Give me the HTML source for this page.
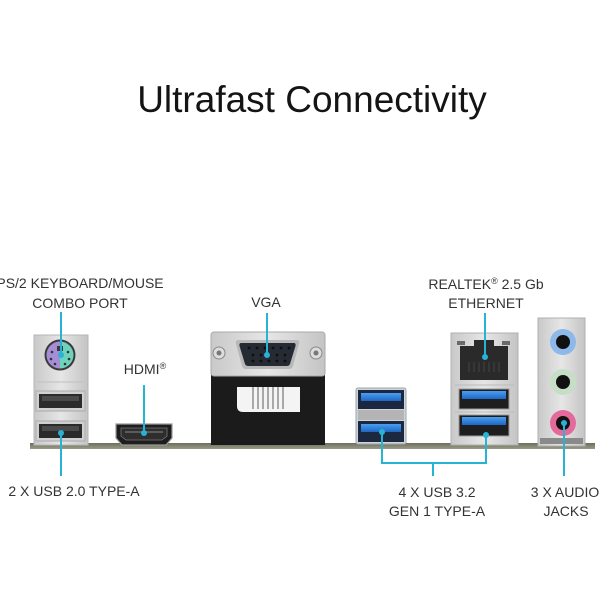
<!DOCTYPE html>
<html><head><meta charset="utf-8"><style>
html,body{margin:0;padding:0;background:#fff;}
body{width:600px;height:600px;overflow:hidden;position:relative;font-family:"Liberation Sans",sans-serif;}
svg{position:absolute;left:0;top:0;}
</style></head><body>
<svg width="600" height="600" viewBox="0 0 600 600" xmlns="http://www.w3.org/2000/svg">
<defs>
<linearGradient id="silver" x1="0" y1="0" x2="1" y2="0">
<stop offset="0" stop-color="#c9c9c9"/><stop offset="0.5" stop-color="#e6e6e6"/><stop offset="1" stop-color="#c4c4c4"/>
</linearGradient>
<linearGradient id="board" x1="0" y1="0" x2="0" y2="1">
<stop offset="0" stop-color="#6e6e5e"/><stop offset="1" stop-color="#9a9a88"/>
</linearGradient>
<linearGradient id="blue" x1="0" y1="0" x2="0" y2="1">
<stop offset="0" stop-color="#4a9ef0"/><stop offset="1" stop-color="#1f66c4"/>
</linearGradient>
</defs>

<!-- title -->
<text x="312" y="112" font-size="37" fill="#141414" text-anchor="middle" font-family="Liberation Sans, sans-serif">Ultrafast Connectivity</text>

<!-- board strip -->
<rect x="30" y="443" width="565" height="6" fill="url(#board)"/>

<!-- PS2 / USB2 panel -->
<rect x="34" y="335" width="54" height="110" fill="url(#silver)" stroke="#b5b5b5" stroke-width="1"/>
<circle cx="60" cy="355" r="15.5" fill="#3a3a3a"/>
<path d="M60 341.5 A13.5 13.5 0 0 0 60 368.5 Z" fill="#a68ed6"/>
<path d="M60 341.5 A13.5 13.5 0 0 1 60 368.5 Z" fill="#6fd2bc"/>
<rect x="57" y="346" width="6" height="5" fill="#3a3a3a"/>
<g fill="#333"><circle cx="52" cy="352" r="1.3"/><circle cx="68" cy="352" r="1.3"/><circle cx="51" cy="359" r="1.3"/><circle cx="69" cy="359" r="1.3"/><circle cx="55" cy="364" r="1.3"/><circle cx="65" cy="364" r="1.3"/></g>
<line x1="38" y1="382" x2="84" y2="382" stroke="#c0c0c0"/>
<rect x="36" y="391" width="49" height="20" fill="#d0d0d0" stroke="#aaa"/>
<rect x="39" y="394" width="43" height="14" fill="#2b2b2b"/>
<rect x="42" y="396" width="37" height="5" fill="#4a4a4a"/>
<rect x="36" y="421" width="49" height="20" fill="#d0d0d0" stroke="#aaa"/>
<rect x="39" y="424" width="43" height="14" fill="#2b2b2b"/>
<rect x="42" y="426" width="37" height="5" fill="#4a4a4a"/>

<!-- HDMI -->
<path d="M116 424 L172 424 L172 438 L166 445 L122 445 L116 438 Z" fill="#1e1e1e" stroke="#9a9a9a" stroke-width="1.2"/>
<path d="M121 428 L167 428 L167 436 L162 440 L126 440 L121 436 Z" fill="#2e2e2e" stroke="#777" stroke-width="0.8"/>
<line x1="125" y1="432" x2="163" y2="432" stroke="#888" stroke-width="1"/>

<!-- VGA -->
<rect x="211" y="375" width="114" height="70" fill="#1b1b1b"/>
<path d="M237 387 L300 387 L300 412 L243 412 Q237 412 237 406 Z" fill="#f4f4f4"/>
<g stroke="#a8a8a8" stroke-width="2">
<line x1="253" y1="387" x2="253" y2="409"/><line x1="258" y1="387" x2="258" y2="409"/><line x1="263" y1="387" x2="263" y2="409"/><line x1="268" y1="387" x2="268" y2="409"/><line x1="273" y1="387" x2="273" y2="409"/><line x1="278" y1="387" x2="278" y2="409"/><line x1="283" y1="387" x2="283" y2="409"/>
</g>
<rect x="211" y="332" width="114" height="44" rx="3" fill="url(#silver)" stroke="#aaa"/>
<circle cx="219" cy="353" r="6" fill="#ddd" stroke="#888"/><circle cx="219" cy="353" r="2.5" fill="#777"/>
<circle cx="316" cy="353" r="6" fill="#ddd" stroke="#888"/><circle cx="316" cy="353" r="2.5" fill="#777"/>
<path d="M238 340 L297 340 Q300 340 299 344 L293 366 Q292 369 289 369 L246 369 Q243 369 242 366 L236 344 Q235 340 238 340 Z" fill="#b8b8b8"/>
<path d="M241 343 L294 343 Q296 343 295.5 346 L290 364 Q289 366 287 366 L248 366 Q246 366 245 364 L239.5 346 Q239 343 241 343 Z" fill="#262a33"/>
<g fill="#0e0e12">
<circle cx="249" cy="348" r="1.4"/><circle cx="257" cy="348" r="1.4"/><circle cx="265" cy="348" r="1.4"/><circle cx="273" cy="348" r="1.4"/><circle cx="281" cy="348" r="1.4"/><circle cx="289" cy="348" r="1.4"/>
<circle cx="253" cy="355" r="1.4"/><circle cx="261" cy="355" r="1.4"/><circle cx="269" cy="355" r="1.4"/><circle cx="277" cy="355" r="1.4"/><circle cx="285" cy="355" r="1.4"/>
<circle cx="253" cy="361" r="1.4"/><circle cx="261" cy="361" r="1.4"/><circle cx="269" cy="361" r="1.4"/><circle cx="277" cy="361" r="1.4"/><circle cx="285" cy="361" r="1.4"/>
</g>

<!-- USB3 double stack -->
<rect x="356" y="388" width="50" height="56" rx="2" fill="#cfd3db" stroke="#9aa"/>
<rect x="358" y="390" width="46" height="19" fill="#1c2740"/>
<rect x="361" y="393" width="40" height="8" fill="url(#blue)"/>
<rect x="358" y="410" width="46" height="10" fill="#b4b4b4"/>
<rect x="358" y="421" width="46" height="21" fill="#1c2740"/>
<rect x="361" y="424" width="40" height="8" fill="url(#blue)"/>

<!-- Ethernet + USB3 stack -->
<rect x="451" y="333" width="67" height="112" fill="url(#silver)" stroke="#b0b0b0"/>
<rect x="457" y="341" width="8" height="4" fill="#6a6a6a"/>
<rect x="502" y="341" width="8" height="4" fill="#6a6a6a"/>
<path d="M460 346 L474 346 L474 340 L494 340 L494 346 L508 346 L508 380 L460 380 Z" fill="#2a2a2a"/>
<g stroke="#444" stroke-width="1">
<line x1="469" y1="362" x2="469" y2="372"/><line x1="474" y1="362" x2="474" y2="372"/><line x1="479" y1="362" x2="479" y2="372"/><line x1="484" y1="362" x2="484" y2="372"/><line x1="489" y1="362" x2="489" y2="372"/><line x1="494" y1="362" x2="494" y2="372"/><line x1="499" y1="362" x2="499" y2="372"/>
</g>
<line x1="455" y1="385" x2="514" y2="385" stroke="#bbb"/>
<rect x="459" y="389" width="50" height="20" fill="#1e1e1e" stroke="#999"/>
<rect x="462" y="391" width="44" height="8" fill="url(#blue)"/>
<line x1="455" y1="412" x2="514" y2="412" stroke="#bbb"/>
<rect x="459" y="415" width="50" height="21" fill="#1e1e1e" stroke="#999"/>
<rect x="462" y="417" width="44" height="8" fill="url(#blue)"/>

<!-- Audio panel -->
<rect x="538" y="318" width="47" height="128" fill="url(#silver)" stroke="#b0b0b0"/>
<rect x="540" y="438" width="43" height="6" fill="#8a8a8a"/>
<circle cx="563" cy="342" r="13" fill="#8cb8ea"/><circle cx="563" cy="342" r="7" fill="#111"/>
<circle cx="563" cy="382" r="13" fill="#c6dec6"/><circle cx="563" cy="382" r="7" fill="#111"/>
<circle cx="563" cy="423" r="13" fill="#e46a9c"/><circle cx="563" cy="423" r="7" fill="#111"/>

<!-- connector lines -->
<g stroke="#27b3d3" stroke-width="2" fill="none">
<line x1="61" y1="312" x2="61" y2="355"/>
<line x1="144" y1="385" x2="144" y2="433"/>
<line x1="267" y1="313" x2="267" y2="355"/>
<line x1="485" y1="313" x2="485" y2="357"/>
<line x1="61" y1="433" x2="61" y2="476"/>
<path d="M382 432 L382 463 L486 463 L486 435"/>
<line x1="433" y1="463" x2="433" y2="476"/>
<line x1="564" y1="423" x2="564" y2="476"/>
</g>
<g fill="#27b3d3">
<circle cx="61" cy="355" r="3"/><circle cx="144" cy="433" r="3"/><circle cx="267" cy="355" r="3"/><circle cx="485" cy="357" r="3"/>
<circle cx="61" cy="433" r="3"/><circle cx="382" cy="432" r="3"/><circle cx="486" cy="435" r="3"/><circle cx="564" cy="423" r="3"/>
</g>

<!-- labels -->
<g font-family="Liberation Sans, sans-serif" font-size="14" fill="#333" text-anchor="middle">
<text x="80" y="288">PS/2 KEYBOARD/MOUSE</text>
<text x="80" y="308">COMBO PORT</text>
<text x="145" y="374">HDMI<tspan font-size="9" dy="-5">®</tspan></text>
<text x="266" y="307">VGA</text>
<text x="486" y="289">REALTEK<tspan font-size="9" dy="-5">®</tspan><tspan dy="5"> 2.5 Gb</tspan></text>
<text x="486" y="308">ETHERNET</text>
<text x="74" y="496">2 X USB 2.0 TYPE-A</text>
<text x="437" y="497">4 X USB 3.2</text>
<text x="437" y="516">GEN 1 TYPE-A</text>
<text x="565" y="497">3 X AUDIO</text>
<text x="566" y="516">JACKS</text>
</g>
</svg>
</body></html>
